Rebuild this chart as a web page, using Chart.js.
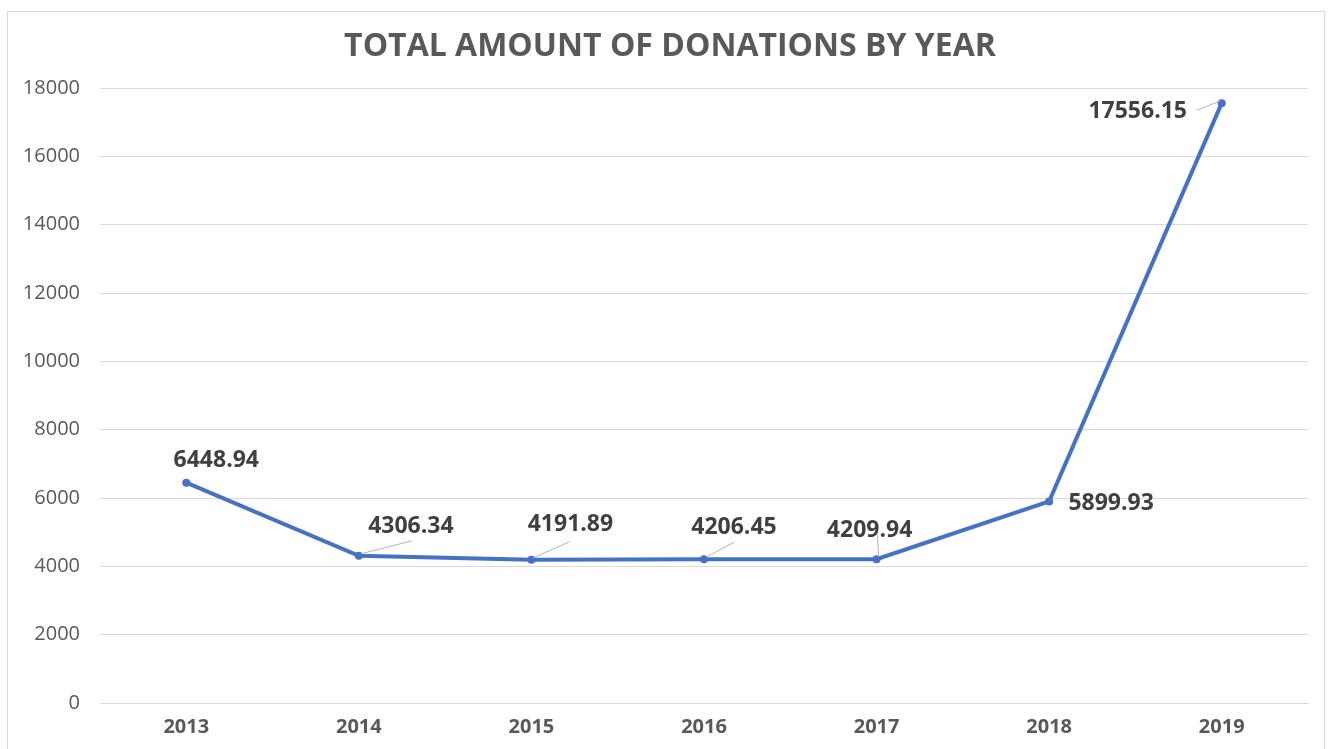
<!DOCTYPE html>
<html>
<head>
<meta charset="utf-8">
<script src="https://cdn.jsdelivr.net/npm/chart.js@4/dist/chart.umd.min.js"></script>
<style>
    html, body { margin: 0; padding: 0; background: #fff; overflow: hidden; }
    #frame { position: absolute; left: 7px; top: 11px; width: 1318px; height: 760px; border: 1px solid #d9d9d9; box-sizing: border-box; }
    #wrap { position: absolute; left: 0; top: 0; width: 1330px; height: 749px; }
</style>
</head>
<body>
<div id="frame"></div>
<div id="wrap"><canvas id="chart" width="1330" height="749"></canvas></div>
<script>
const years = ["2013", "2014", "2015", "2016", "2017", "2018", "2019"];
const donations = [6448.94, 4306.34, 4191.89, 4206.45, 4209.94, 5899.93, 17556.15];
const valueLabels = ["6448.94", "4306.34", "4191.89", "4206.45", "4209.94", "5899.93", "17556.15"];
const chartTitle = "TOTAL AMOUNT OF DONATIONS BY YEAR";

// where each value label sits relative to its point, and where its leader line ends
const labelOffsets = [[30, -22], [52, -29], [39, -35], [30, -32], [-7, -29], [62, 2], [-84, 8]];
const leaderEnds = [null, [53, -15], [38, -18], [30, -17], [1, -24], null, [-25, 7]];

const font = "'Open Sans', 'Noto Sans', sans-serif";

const valueLabelPlugin = {
    id: "valueLabels",
    afterDatasetsDraw(chart) {
        const ctx = chart.ctx;
        const meta = chart.getDatasetMeta(0);
        ctx.save();
        meta.data.forEach((pt, i) => {
            const end = leaderEnds[i];
            if (end) {
                ctx.strokeStyle = "#b4b4b4";
                ctx.lineWidth = 1;
                ctx.beginPath();
                ctx.moveTo(pt.x + Math.sign(end[0]) * 2, pt.y - 2);
                ctx.lineTo(pt.x + end[0], pt.y + end[1]);
                ctx.stroke();
            }
            const off = labelOffsets[i];
            ctx.fillStyle = "#404040";
            ctx.font = "bold 23px " + font;
            ctx.textAlign = "center";
            ctx.textBaseline = "middle";
            ctx.fillText(valueLabels[i], pt.x + off[0], pt.y + off[1]);
        });

        // title, centred a little right of the canvas middle like the original
        ctx.fillStyle = "#595959";
        ctx.font = "bold 32px " + font;
        ctx.textAlign = "center";
        ctx.textBaseline = "middle";
        ctx.fillText(chartTitle, 670, 47);
        ctx.restore();
    }
};

new Chart(document.getElementById("chart"), {
    type: "line",
    data: {
        labels: years,
        datasets: [{
            data: donations,
            borderColor: "#4472c4",
            backgroundColor: "#4472c4",
            borderWidth: 4,
            pointRadius: 4,
            pointBackgroundColor: "#4472c4",
            pointBorderWidth: 0,
            tension: 0
        }]
    },
    options: {
        responsive: false,
        animation: false,
        devicePixelRatio: 1,
        layout: { padding: { top: 88, right: 22, bottom: 0, left: 0 } },
        plugins: {
            legend: { display: false },
            tooltip: { enabled: false },
            title: { display: false }
        },
        scales: {
            x: {
                offset: true,
                grid: { display: false, drawTicks: false },
                border: { display: true, color: "#d9d9d9", width: 1 },
                ticks: {
                    color: "#595959",
                    padding: 12,
                    font: { family: font, size: 20, weight: "bold" }
                },
                afterFit: (scale) => { scale.height = 46; }
            },
            y: {
                min: 0,
                max: 18000,
                ticks: {
                    stepSize: 2000,
                    color: "#595959",
                    padding: 20,
                    font: { family: font, size: 20 },
                    callback: (value) => String(value)
                },
                grid: { color: "#d9d9d9", drawTicks: false },
                border: { display: false },
                afterFit: (scale) => { scale.width = 100; }
            }
        }
    },
    plugins: [valueLabelPlugin]
});
</script>
</body>
</html>
